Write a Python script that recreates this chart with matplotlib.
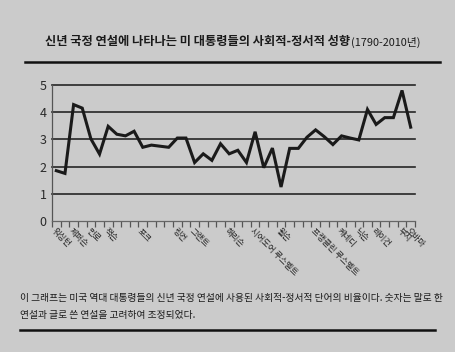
import numpy as np
import matplotlib
matplotlib.use('Agg')
import matplotlib.pyplot as plt
from matplotlib.lines import Line2D

plt.rcParams['font.family'] = ['Noto Sans CJK KR', 'DejaVu Sans']

# social-emotional score per president
values = [1.85, 1.75, 4.28, 4.15, 3.02, 2.46, 3.48, 3.19, 3.13, 3.30,
          2.71, 2.79, 2.75, 2.71, 3.05, 3.05, 2.15, 2.47, 2.23, 2.84,
          2.47, 2.60, 2.15, 3.28, 1.96, 2.68, 1.25, 2.67, 2.67, 3.08,
          3.35, 3.10, 2.81, 3.13, 3.05, 2.98, 4.10, 3.55, 3.80, 3.80,
          4.80, 3.45]
label_pos = [0, 2, 4, 6, 10, 14, 16, 20, 23, 26, 30, 33, 35, 37, 40, 41]
label_txt = ['워싱턴', '제퍼슨', '먼로', '잭슨', '포크', '링컨', '그랜트', '해리슨',
             '시어도어 루스벨트', '윌슨', '프랭클린 루스벨트', '케네디', '닉슨',
             '레이건', '부시', '오바마']
yticks = [0, 1, 2, 3, 4, 5]

bg = '#cbcbcb'
fig = plt.figure(figsize=(4.55, 3.52), dpi=100, facecolor=bg)
W, H = 455, 352

ax = fig.add_axes([52 / W, 1 - 221 / H, (415 - 52) / W, (221 - 85) / H])
ax.set_facecolor(bg)
x = np.arange(len(values))
ax.set_xlim(-0.5, len(values) - 0.5)
ax.set_ylim(0, 5)

for v in yticks[1:]:
    ax.axhline(v, color='#262626', lw=1.2, clip_on=False, zorder=1)
ax.plot(x, values, color='#1a1a1a', lw=2.2, solid_joinstyle='miter', zorder=3)

for s in ['top', 'right']:
    ax.spines[s].set_visible(False)
ax.spines['left'].set_color('#555555')
ax.spines['left'].set_linewidth(0.9)
ax.spines['bottom'].set_color('#666666')
ax.spines['bottom'].set_linewidth(0.9)

ax.set_yticks(yticks)
ax.tick_params(axis='y', length=0, labelsize=9, labelcolor='#2a2a2a', pad=4)

ax.set_xticks(np.arange(-0.5, len(values)), minor=True)
ax.tick_params(axis='x', which='minor', length=4, width=0.9, color='#555555', direction='out')
ax.set_xticks(label_pos)
ax.set_xticklabels(label_txt)
ax.tick_params(axis='x', which='major', length=0, pad=4)
for t in ax.get_xticklabels():
    t.set_rotation(-45)
    t.set_ha('left')
    t.set_va('top')
    t.set_rotation_mode('anchor')
    t.set_fontsize(6)
    t.set_color('#222222')

# title and rules
fig.text(350 / W, 1 - 42 / H, '신년 국정 연설에 나타나는 미 대통령들의 사회적-정서적 성향',
         ha='right', va='center', fontsize=8.8, weight='bold', color='#1a1a1a')
fig.text(351 / W, 1 - 42 / H, '(1790-2010년)', ha='left', va='center',
         fontsize=7.8, color='#1a1a1a')
fig.add_artist(Line2D([25 / W, 440 / W], [1 - 62 / H, 1 - 62 / H], color='#111111', lw=1.8))

fig.text(20 / W, 1 - 298 / H,
         '이 그래프는 미국 역대 대통령들의 신년 국정 연설에 사용된 사회적-정서적 단어의 비율이다. 숫자는 말로 한',
         ha='left', va='center', fontsize=7, color='#1a1a1a')
fig.text(20 / W, 1 - 315 / H, '연설과 글로 쓴 연설을 고려하여 조정되었다.',
         ha='left', va='center', fontsize=7, color='#1a1a1a')
fig.add_artist(Line2D([20 / W, 435 / W], [1 - 330 / H, 1 - 330 / H], color='#111111', lw=1.8))

fig.savefig('out.png', dpi=100, facecolor=bg)
